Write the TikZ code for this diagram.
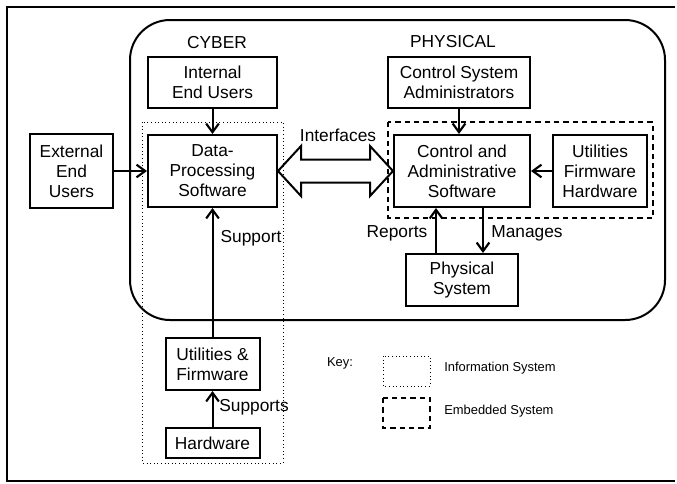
\documentclass[tikz,border=0pt]{standalone}
\usepackage{fontspec}
\setmainfont{Liberation Sans}
\usetikzlibrary{arrows.meta,calc}
\begin{document}
\begin{tikzpicture}[x=0.75pt,y=-0.75pt,
  box/.style={draw,line width=1.5pt,align=center,inner sep=0pt,
    font=\fontsize{13}{15}\selectfont},
  lbl/.style={inner sep=0pt,font=\fontsize{13}{15}\selectfont},
  keylbl/.style={inner sep=0pt,font=\fontsize{9.7}{11}\selectfont},
  arr/.style={line width=1.5pt,-{Straight Barb[length=6.5pt,width=9.5pt,line width=1.6pt]}},
  infosys/.style={draw,line width=0.7pt,dotted},
  embsys/.style={draw,line width=1pt,dash pattern=on 4pt off 3pt}]
\useasboundingbox (0,0) rectangle (677,483);
% outer frame
\draw[line width=2pt] (675,7) -- (7,7) -- (7,481) -- (675,481);
% rounded region
\draw[line width=1.5pt,rounded corners=30pt] (130,20) rectangle (665,320);
% grouping boxes
\draw[infosys] (142,122) rectangle (283,463);
\draw[embsys] (388,122) rectangle (653,218);
% labels
\node[lbl] (cyber) at (217,43) {CYBER};
\node[lbl] (physical) at (453,42) {PHYSICAL};
% nodes
\node[box,minimum width=62.25pt,minimum height=55.5pt] (ext) at (71.5,171) {External\\End\\Users};
\node[box,minimum width=96.75pt,minimum height=38.25pt] (int) at (212.5,82.5) {Internal\\End Users};
\node[box,minimum width=96.75pt,minimum height=54pt] (dps) at (212.5,171) {Data-\\Processing\\Software};
\node[box,minimum width=106.5pt,minimum height=38.25pt] (csa) at (459,82.5) {Control System\\Administrators};
\node[box,minimum width=102pt,minimum height=54pt] (cas) at (462,171) {Control and\\Administrative\\Software};
\node[box,minimum width=70.5pt,minimum height=54pt] (ufh) at (600,171) {Utilities\\Firmware\\Hardware};
\node[box,minimum width=84pt,minimum height=39pt] (phys) at (462,280) {Physical\\System};
\node[box,minimum width=70.5pt,minimum height=39pt] (uf) at (212.5,364) {Utilities \&\\Firmware};
\node[box,minimum width=70.5pt,minimum height=22.5pt] (hw) at (212.5,443) {Hardware};
% arrows
\draw[arr] (ext.east) -- (dps.west);
\draw[arr] (int.south) -- (dps.north);
\draw[arr] (csa.south) -- (csa.south |- cas.north);
\draw[arr] (ufh.west) -- (cas.east);
\draw[arr] (uf.north) -- (dps.south);
\draw[arr] (hw.north) -- (uf.south);
\coordinate (rp) at (436,0);
\coordinate (mg) at (483,0);
\draw[arr] (rp |- phys.north) -- (rp |- cas.south);
\draw[arr] (mg |- cas.south) -- (mg |- phys.north);
% double arrow (interfaces)
\draw[line width=1.5pt,line join=miter]
  (dps.east) -- ($(dps.east)+(23,-25)$) -- ($(dps.east)+(23,-11.5)$)
  -- ($(cas.west)+(-23,-11.5)$) -- ($(cas.west)+(-23,-25)$) -- (cas.west)
  -- ($(cas.west)+(-23,25)$) -- ($(cas.west)+(-23,11.5)$)
  -- ($(dps.east)+(23,11.5)$) -- ($(dps.east)+(23,25)$) -- cycle;
\node[lbl] (interfaces) at (338,135) {Interfaces};
\node[lbl] (support) at (251,238) {Support};
\node[lbl] (reports) at (397,233) {Reports};
\node[lbl] (manages) at (527,233) {Manages};
\node[lbl] (supports) at (254,407) {Supports};
% key
\node[keylbl] (key) at (340,363) {Key:};
\draw[infosys] (383,356) rectangle (430,386);
\draw[embsys] (383,398) rectangle (430,428);
\node[keylbl,anchor=west] (infolbl) at (444,368) {Information System};
\node[keylbl,anchor=west] (emblbl) at (444,411) {Embedded System};
\end{tikzpicture}
\end{document}
